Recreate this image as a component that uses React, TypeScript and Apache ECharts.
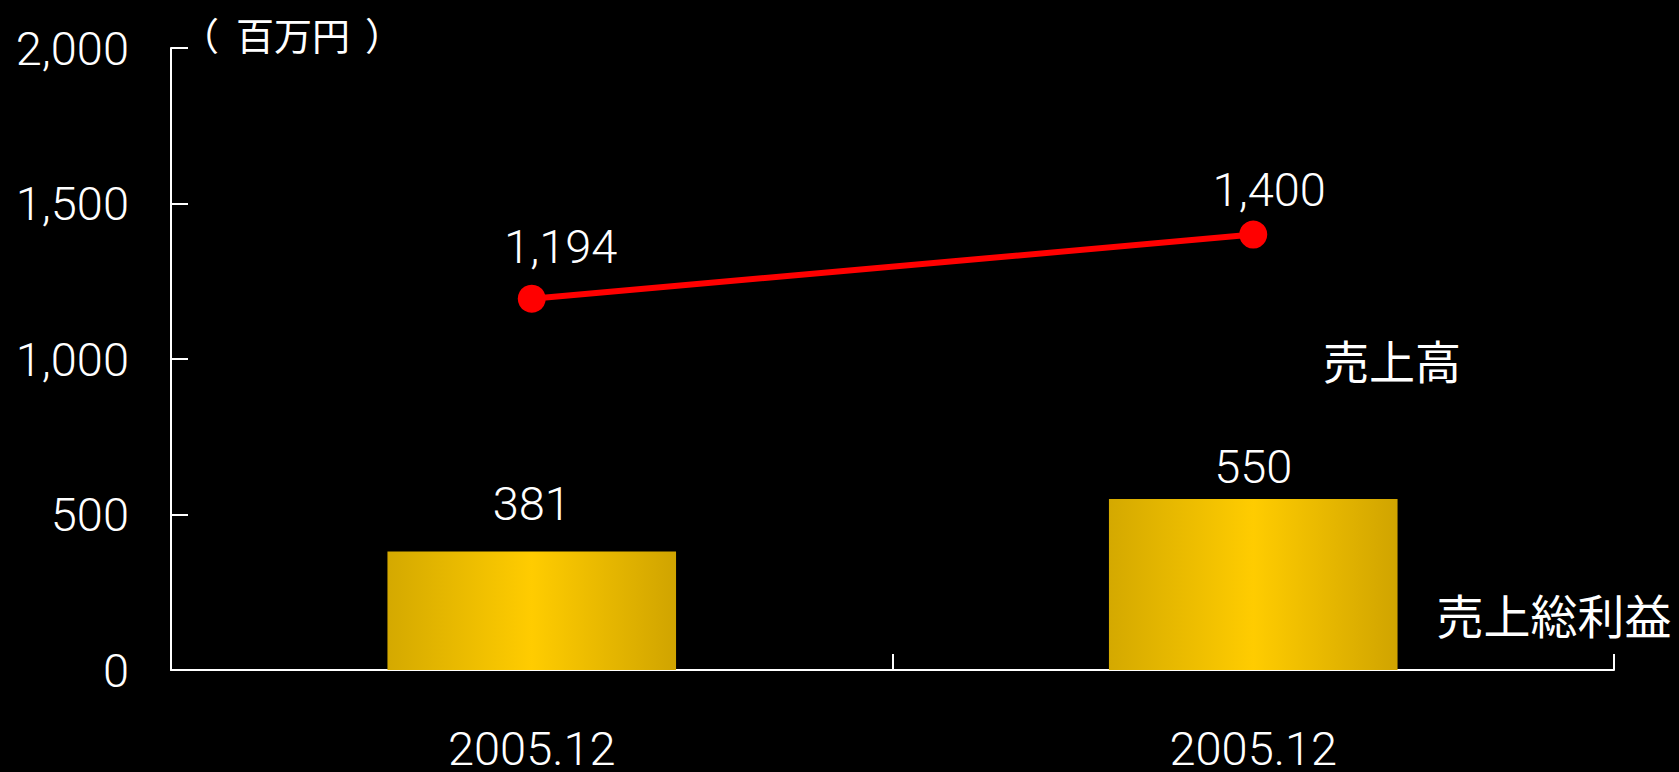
import React, { useEffect, useRef } from "react";
import * as echarts from "echarts";

const categories = ["2005.12", "2005.12"];
const grossProfit = [381, 550];
const sales = [1194, 1400];
const barLabelDistance = [25, 9];
const lineLabelOffset = [
  [29, -10],
  [16, -3],
];
const seriesNames = ["売上高", "売上総利益"];
const unitLabel = "百万円";

const fmt = (v: number) => v.toLocaleString("en-US");
const LATIN = 'Roboto, "Noto Sans", sans-serif';
const CJK = '"Noto Sans CJK JP", sans-serif';

export default function App() {
  const ref = useRef<HTMLDivElement>(null);
  useEffect(() => {
    if (!ref.current) return;
    const chart = echarts.init(ref.current, null, { renderer: "svg" });
    chart.setOption({
      animation: false,
      backgroundColor: "#000000",
      grid: { left: 171, right: 65, top: 48, bottom: 95, containLabel: false },
      xAxis: {
        type: "category",
        data: categories,
        boundaryGap: true,
        axisLine: { show: true, lineStyle: { color: "#ffffff", width: 2 } },
        axisTick: { show: true, inside: true, length: 16, lineStyle: { color: "#ffffff", width: 2 } },
        axisLabel: { color: "#ffffff", fontSize: 47, fontFamily: LATIN, fontWeight: 300, margin: 55 },
        splitLine: { show: false },
      },
      yAxis: {
        type: "value",
        min: 0,
        max: 2000,
        interval: 500,
        axisLine: { show: true, lineStyle: { color: "#ffffff", width: 2 } },
        axisTick: { show: true, inside: true, length: 17, lineStyle: { color: "#ffffff", width: 2 } },
        axisLabel: {
          color: "#ffffff",
          fontSize: 47,
          fontFamily: LATIN,
          fontWeight: 300,
          margin: 42,
          formatter: (v: number) => fmt(v),
        },
        splitLine: { show: false },
      },
      series: [
        {
          type: "bar",
          name: seriesNames[1],
          barWidth: "40%",
          data: grossProfit.map((v, i) => ({
            value: v,
            label: { distance: barLabelDistance[i] },
          })),
          itemStyle: {
            color: new echarts.graphic.LinearGradient(0, 0, 1, 0, [
              { offset: 0, color: "#d4a900" },
              { offset: 0.5, color: "#ffcc00" },
              { offset: 1, color: "#d0a400" },
            ]),
          },
          label: {
            show: true,
            position: "top",
            color: "#ffffff",
            fontSize: 47,
            fontFamily: LATIN,
            fontWeight: 300,
            formatter: (p: any) => fmt(p.value),
          },
          z: 2,
        },
        {
          type: "line",
          name: seriesNames[0],
          data: sales.map((v, i) => ({
            value: v,
            label: { offset: lineLabelOffset[i] },
          })),
          symbol: "circle",
          symbolSize: 28,
          lineStyle: { color: "#ff0000", width: 6 },
          itemStyle: { color: "#ff0000" },
          label: {
            show: true,
            position: "top",
            distance: 5,
            color: "#ffffff",
            fontSize: 47,
            fontFamily: LATIN,
            fontWeight: 300,
            formatter: (p: any) => fmt(p.value),
          },
          z: 3,
        },
      ],
      graphic: [
        {
          type: "text",
          x: 200,
          y: 33,
          style: { text: "（", fill: "#ffffff", font: `38px ${CJK}`, textAlign: "center", textVerticalAlign: "middle" },
        },
        {
          type: "text",
          x: 293,
          y: 33,
          style: { text: unitLabel, fill: "#ffffff", font: `38px ${CJK}`, textAlign: "center", textVerticalAlign: "middle" },
        },
        {
          type: "text",
          x: 384,
          y: 33,
          style: { text: "）", fill: "#ffffff", font: `38px ${CJK}`, textAlign: "center", textVerticalAlign: "middle" },
        },
        {
          type: "text",
          x: 1392,
          y: 359,
          style: { text: seriesNames[0], fill: "#ffffff", font: `46px ${CJK}`, textAlign: "center", textVerticalAlign: "middle" },
        },
        {
          type: "text",
          x: 1554,
          y: 613,
          style: { text: seriesNames[1], fill: "#ffffff", font: `47px ${CJK}`, textAlign: "center", textVerticalAlign: "middle" },
        },
      ],
    });
    return () => chart.dispose();
  }, []);
  return (
    <div
      ref={ref}
      style={{ position: "fixed", left: 0, top: 0, width: 1679, height: 772, background: "#000" }}
    />
  );
}
